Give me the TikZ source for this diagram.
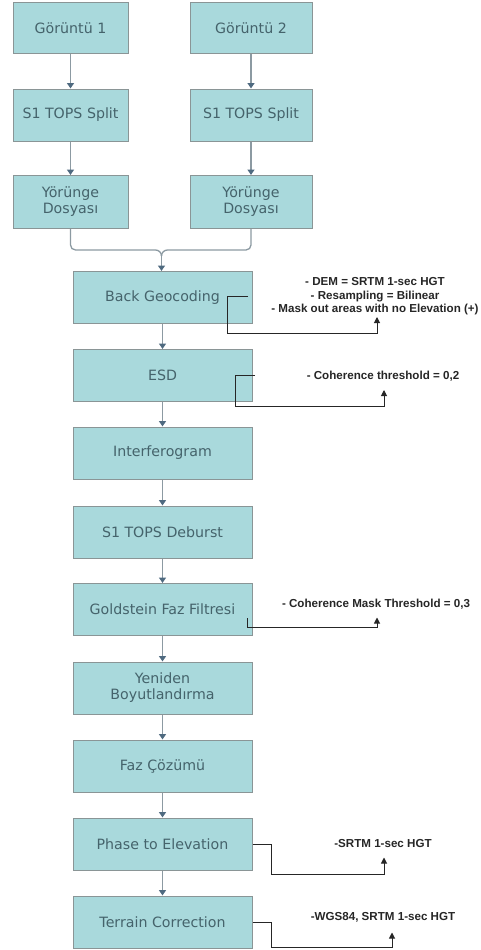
\documentclass[tikz,border=0pt]{standalone}
\usepackage{fontspec}
\setmainfont{DejaVu Sans}
\newfontfamily\notefont{Liberation Sans}
\usetikzlibrary{arrows.meta}
\definecolor{boxfill}{HTML}{A9D9DC}
\definecolor{boxdraw}{HTML}{8A9596}
\definecolor{boxtext}{HTML}{45636B}
\definecolor{flowline}{HTML}{8C9AA2}
\definecolor{flowhead}{HTML}{4F6A80}
\tikzset{
  x=1pt, y=-1pt,
  procbox/.style={draw=boxdraw, fill=boxfill, line width=1pt, minimum width=179, minimum height=52,
    text=boxtext, font=\fontsize{14.2}{16}\selectfont, align=center, inner sep=2pt},
  flow/.style={draw=flowline, line width=1.3pt, -{Triangle[width=7pt,length=5.5pt,color=flowhead]}},
  flowplain/.style={draw=flowline, line width=1.3pt},
  notetext/.style={font=\notefont\bfseries\fontsize{11.6}{13.5}\selectfont, text=black!85, align=center, inner sep=0pt},
  noteline/.style={draw=black!85, line width=1pt, -{Triangle[width=6pt,length=6pt]}},
}
\begin{document}
\begin{tikzpicture}
\useasboundingbox (0,0) rectangle (480,950);
% top pair
\node[procbox, minimum width=115, minimum height=51] (g1) at (70.5,28.5) {Görüntü 1};
\node[procbox, minimum width=122, minimum height=51] (g2) at (251,28.5) {Görüntü 2};
\node[procbox, minimum width=115, minimum height=52] (s1) at (70.5,115) {S1 TOPS Split};
\node[procbox, minimum width=122, minimum height=52] (s2) at (251,115) {S1 TOPS Split};
\node[procbox, minimum width=115, minimum height=53] (y1) at (70.5,202) {Yörünge\\Dosyası};
\node[procbox, minimum width=122, minimum height=53] (y2) at (251,202) {Yörünge\\Dosyası};
% main column
\node[procbox] (bg) at (162.5,297.5) {Back Geocoding};
\node[procbox] (esd) at (162.5,375.5) {ESD};
\node[procbox] (ifg) at (162.5,453) {Interferogram};
\node[procbox] (deb) at (162.5,532) {S1 TOPS Deburst};
\node[procbox] (gold) at (162.5,609.5) {Goldstein Faz Filtresi};
\node[procbox] (yen) at (162.5,688) {Yeniden\\Boyutlandırma};
\node[procbox] (faz) at (162.5,766) {Faz Çözümü};
\node[procbox] (pte) at (162.5,844) {Phase to Elevation};
\node[procbox] (tc) at (162.5,922) {Terrain Correction};
% flow arrows
\draw[flow] (g1) -- (s1);
\draw[flow] (g2) -- (s2);
\draw[flow] (s1) -- (y1);
\draw[flow] (s2) -- (y2);
\coordinate (merge) at (161.5,256);
\draw[flowplain] (y1.south) -- (70.5,245) to[out=-90,in=180] (75.5,250) -- (155.5,250) to[out=0,in=90] (merge);
\draw[flowplain] (y2.south) -- (251,245) to[out=-90,in=0] (246,250) -- (167.5,250) to[out=180,in=90] (merge);
\draw[flow] (merge) -- (bg.north -| merge);
\draw[flow] (bg) -- (esd);
\draw[flow] (esd) -- (ifg);
\draw[flow] (ifg) -- (deb);
\draw[flow] (deb) -- (gold);
\draw[flow] (gold) -- (yen);
\draw[flow] (yen) -- (faz);
\draw[flow] (faz) -- (pte);
\draw[flow] (pte) -- (tc);
% notes
\node[notetext] (nbg) at (375,296.5) {- DEM = SRTM 1-sec HGT\\- Resampling = Bilinear\\- Mask out areas with no Elevation (+)};
\node[notetext] (nesd) at (383,376) {- Coherence threshold = 0,2};
\node[notetext] (ngold) at (376,604.5) {- Coherence Mask Threshold = 0,3};
\node[notetext] (npte) at (383,843.5) {-SRTM 1-sec HGT};
\node[notetext] (ntc) at (383,917) {-WGS84, SRTM 1-sec HGT};
% note connectors
\coordinate (bgs) at (248,296);
\coordinate (bgt) at (377,317);
\draw[noteline] (bgs) -- (227,296) -- (227,333) -- (377,333) -- (bgt);
\coordinate (esds) at (255,375.5);
\coordinate (esdt) at (384,390);
\draw[noteline] (esds) -- (235,375.5) -- (235,406) -- (384,406) -- (esdt);
\coordinate (golds) at (247,618);
\coordinate (goldt) at (377,617.5);
\draw[noteline] (golds) -- (247,627) -- (377,627) -- (goldt);
\coordinate (ptet) at (384,857.5);
\draw[noteline] (pte.east) -- (271,844) -- (271,874.5) -- (384,874.5) -- (ptet);
\coordinate (tct) at (392,932.5);
\draw[noteline] (tc.east) -- (271,922) -- (271,947) -- (392,947) -- (tct);
\end{tikzpicture}
\end{document}
